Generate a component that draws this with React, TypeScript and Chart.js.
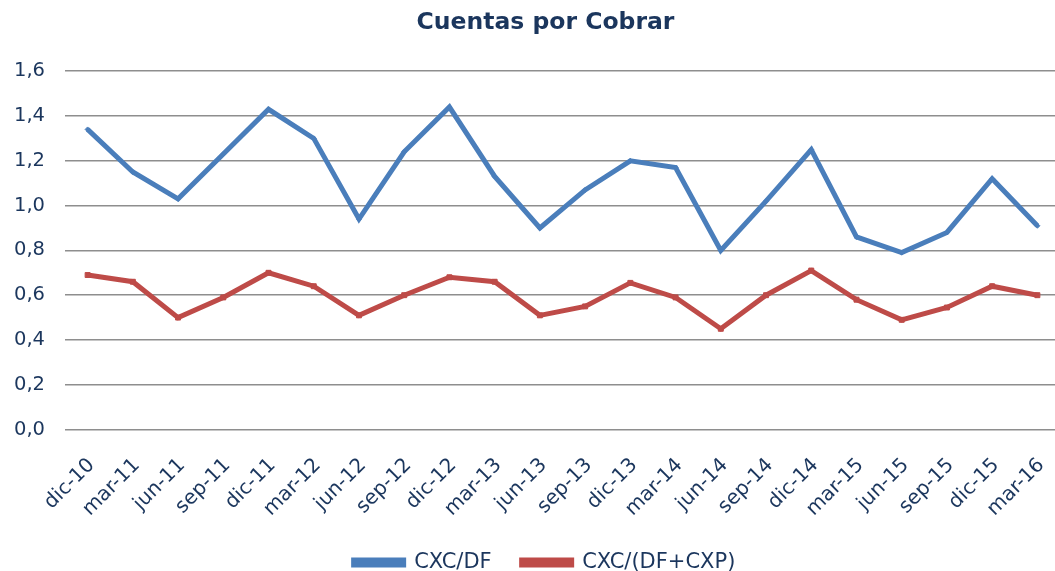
import React, { useEffect, useRef } from "react";
import { Chart, registerables } from "chart.js";

Chart.register(...registerables);

const categories = [
  "dic-10", "mar-11", "jun-11", "sep-11", "dic-11", "mar-12", "jun-12", "sep-12",
  "dic-12", "mar-13", "jun-13", "sep-13", "dic-13", "mar-14", "jun-14", "sep-14",
  "dic-14", "mar-15", "jun-15", "sep-15", "dic-15", "mar-16",
];

const cxcDf = [
  1.34, 1.15, 1.03, 1.23, 1.43, 1.30, 0.94, 1.24,
  1.44, 1.13, 0.90, 1.07, 1.20, 1.17, 0.80, 1.02,
  1.25, 0.86, 0.79, 0.88, 1.12, 0.91,
];

const cxcDfCxp = [
  0.69, 0.66, 0.50, 0.59, 0.70, 0.64, 0.51, 0.60,
  0.68, 0.66, 0.51, 0.55, 0.655, 0.59, 0.45, 0.60,
  0.71, 0.58, 0.49, 0.545, 0.64, 0.60,
];

const seriesNames = ["CXC/DF", "CXC/(DF+CXP)"];
const titleText = "Cuentas por Cobrar";

const TEXT = "#1B365D";
const BLUE = "#4A7EBB";
const RED = "#BE4B48";
const FONT = "'DejaVu Sans', Verdana, sans-serif";
const CANVAS_W = 1065;

const shiftBoxes = {
  id: "shiftBoxes",
  afterLayout(chart: any) {
    const t = chart.titleBlock;
    if (t) {
      t.left = 1091 - CANVAS_W;
      t.width = t.right - t.left;
    }
    const l = chart.legend;
    if (l) {
      l.left = 14 + (1075 - CANVAS_W);
      l.width = l.right - l.left;
      l.top += 12;
      l.bottom += 12;
    }
    const x = chart.scales.x;
    if (x) {
      x.bottom = chart.height;
    }
  },
};

export default function App() {
  const ref = useRef<HTMLCanvasElement | null>(null);

  useEffect(() => {
    if (!ref.current) return;
    const chart = new Chart(ref.current, {
      type: "line",
      data: {
        labels: categories,
        datasets: [
          {
            label: seriesNames[0],
            data: cxcDf,
            borderColor: BLUE,
            backgroundColor: BLUE,
            borderWidth: 5,
            pointStyle: "rectRot",
            pointRadius: 2.5,
            pointBorderWidth: 1,
            tension: 0,
          },
          {
            label: seriesNames[1],
            data: cxcDfCxp,
            borderColor: RED,
            backgroundColor: RED,
            borderWidth: 5,
            pointStyle: "rect",
            pointRadius: 3.5,
            pointBorderWidth: 1,
            tension: 0,
          },
        ],
      },
      options: {
        responsive: false,
        animation: false,
        layout: { padding: 0 },
        plugins: {
          title: {
            display: true,
            text: titleText,
            color: TEXT,
            font: { family: FONT, size: 23.5, weight: "bold" },
            padding: { top: 9, bottom: 34 },
          },
          legend: {
            display: true,
            position: "bottom",
            labels: {
              color: TEXT,
              font: { family: FONT, size: 21 },
              boxWidth: 50,
              boxHeight: 5,
              padding: 30,
            },
          },
          tooltip: { enabled: false },
        },
        scales: {
          x: {
            offset: true,
            grid: {
              display: true,
              drawOnChartArea: false,
              drawTicks: true,
              tickLength: 21,
              color: "rgba(0,0,0,0)",
            },
            border: { display: false },
            afterFit: (scale: any) => {
              scale.height -= 14;
            },
            ticks: {
              color: TEXT,
              font: { family: FONT, size: 20 },
              minRotation: 45,
              maxRotation: 45,
              autoSkip: false,
              padding: 3,
              labelOffset: 4,
            },
          },
          y: {
            min: 0,
            max: 1.6,
            afterFit: (scale: any) => {
              scale.width = 65;
            },
            grid: { color: "#8E8E8E", lineWidth: 1.6, drawTicks: false },
            border: { display: false },
            ticks: {
              stepSize: 0.2,
              color: TEXT,
              font: { family: FONT, size: 19.5 },
              padding: 20,
              callback: (v: any) => Number(v).toFixed(1).replace(".", ","),
            },
          },
        },
      },
      plugins: [shiftBoxes],
    } as any);
    return () => chart.destroy();
  }, []);

  return (
    <div style={{ position: "fixed", left: 0, top: 0, width: 1055, height: 571, overflow: "hidden", background: "#fff" }}>
      <canvas ref={ref} width={CANVAS_W} height={571} style={{ display: "block" }} />
    </div>
  );
}
